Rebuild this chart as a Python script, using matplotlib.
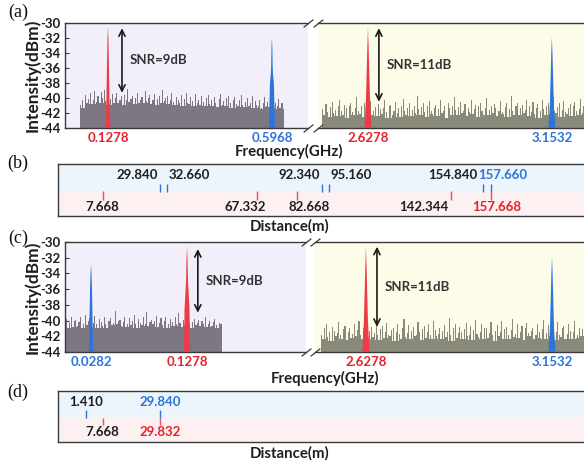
import numpy as np
import matplotlib
matplotlib.use("Agg")
import matplotlib.pyplot as plt

plt.rcParams['font.family'] = ['Lato', 'DejaVu Sans']
plt.rcParams['font.weight'] = 'bold'

W, H = 584, 463

# ---------------- data ----------------
yticks = [-30, -32, -34, -36, -38, -40, -42, -44]
ytick_labels = ["-30", "-32", "-34", "-36", "-38", "-40", "-42", "-44"]

# noise spectra (dBm), evenly spaced between start and end frequency
a_left_noise_range = (0.050, 0.630)
a_left_noise = [
    -40.9, -40.2, -41.3, -39.6, -40.7, -40.1, -39.4, -40.8, -40.3, -39.0,
    -40.5, -39.8, -40.6, -39.2, -40.0, -38.9, -40.4, -39.7, -40.9, -40.1,
    -39.5, -40.6, -40.0, -39.3, -40.7, -40.2, -39.8, -40.9, -39.6, -40.3,
    -38.8, -40.5, -40.1, -39.7, -40.8, -40.0, -39.4, -40.6, -40.2, -39.9,
    -40.7, -39.1, -40.4, -40.0, -39.6, -40.8, -40.3, -39.5, -40.9, -40.1,
    -39.8, -40.6, -38.9, -40.4, -40.0, -39.7, -40.8, -40.2, -39.3, -40.5,
    -40.9, -39.9, -40.3, -40.7, -39.6, -41.0, -40.1, -39.4, -40.6, -40.8,
    -39.9, -40.4, -41.0, -39.5, -40.7, -40.2, -40.9, -39.8, -40.5, -41.1,
    -40.0, -39.6, -40.8, -40.3, -41.0, -39.9, -40.6, -41.2, -40.1, -39.5,
    -40.9, -40.4, -41.1, -40.0, -39.7, -40.7, -41.3, -40.2, -39.9, -40.8,
    -41.0, -40.3, -39.6, -40.9, -41.2, -40.5, -40.0, -41.1, -40.6, -39.8,
    -41.3, -40.4, -40.9, -41.0, -40.2, -41.4, -40.7, -39.9, -41.1, -40.5,
    -41.2, -40.8, -40.3, -41.4, -40.6, -41.0, -40.1, -41.3, -40.7, -41.5]

a_right_noise_range = (2.499, 3.245)
a_right_noise = [
    -41.5, -42.3, -40.8, -41.9, -42.5, -41.2, -40.5, -42.0, -41.6, -42.4,
    -41.0, -40.3, -41.8, -42.2, -40.9, -41.4, -42.6, -41.1, -40.6, -41.9,
    -42.3, -41.3, -39.9, -41.7, -42.1, -41.0, -42.5, -40.7, -41.6, -42.0,
    -41.4, -40.4, -42.2, -41.8, -41.2, -42.4, -40.8, -41.5, -42.1, -41.3,
    -40.2, -41.9, -42.6, -41.1, -40.9, -42.3, -41.7, -40.5, -42.0, -41.4,
    -42.5, -41.0, -40.1, -41.8, -42.2, -41.3, -40.7, -42.4, -41.6, -41.1,
    -42.0, -39.8, -41.5, -42.3, -41.2, -40.6, -41.9, -42.5, -41.0, -40.4,
    -41.7, -42.1, -41.3, -40.9, -42.4, -41.5, -40.3, -42.0, -41.8, -41.1,
    -42.6, -40.7, -41.4, -42.2, -41.0, -39.9, -41.6, -42.3, -41.2, -40.5,
    -42.0, -41.7, -40.8, -42.4, -41.3, -41.9, -40.2, -42.1, -41.5, -40.9,
    -42.5, -41.1, -40.6, -41.8, -42.2, -41.4, -40.0, -42.3, -41.6, -41.0,
    -42.0, -40.8, -41.3, -42.4, -41.7, -40.4, -41.9, -42.1, -41.2, -40.7,
    -42.5, -41.5, -39.7, -41.8, -42.2, -41.0, -40.6, -42.3, -41.4, -40.9,
    -42.0, -41.6, -40.3, -42.4, -41.1, -41.9, -40.5, -42.1, -41.3, -40.8,
    -42.6, -41.7, -40.2, -41.5, -42.2, -41.0, -40.7, -42.3, -41.4, -39.9,
    -41.8, -42.0, -41.2, -40.6, -42.5, -41.6, -40.4, -41.9, -42.1, -41.3,
    -40.8, -42.4, -41.0, -40.5, -41.7, -42.2, -41.5, -40.1, -42.0, -41.1]

c_left_noise_range = (0.001, 0.163)
c_left_noise = [
    -40.6, -39.8, -41.0, -40.3, -39.5, -40.8, -40.1, -39.9, -40.7, -40.2,
    -39.6, -40.9, -40.4, -39.3, -40.6, -40.0, -39.7, -40.8, -40.3, -39.4,
    -40.5, -40.9, -39.8, -40.2, -40.7, -39.6, -40.4, -41.0, -40.1, -39.7,
    -40.6, -40.3, -38.8, -40.5, -40.0, -39.9, -40.7, -40.2, -39.5, -40.8,
    -40.4, -39.7, -40.6, -40.1, -39.3, -40.5, -40.9, -39.8, -40.3, -40.6,
    -39.6, -40.4, -38.9, -40.7, -40.2, -39.9, -40.5, -40.0, -39.4, -40.8,
    -40.3, -39.7, -40.6, -40.1, -39.5, -40.9, -40.4, -39.8, -40.2, -40.7,
    -39.6, -40.5, -39.0, -40.3, -40.8, -39.9, -40.6, -40.1, -39.7, -40.4,
    -40.9, -40.2, -39.8, -40.6, -40.3, -39.9, -40.7, -40.1, -40.5, -39.6,
    -40.8, -40.4, -40.0, -40.7, -40.2, -39.8, -40.6, -40.9, -40.3, -40.5]

c_right_noise_range = (2.503, 3.244)
c_right_noise = [
    -41.8, -42.4, -41.0, -40.4, -42.1, -41.5, -42.6, -40.8, -41.3, -42.0,
    -41.6, -40.2, -41.9, -42.3, -41.1, -40.7, -42.5, -41.4, -40.9, -42.2,
    -41.7, -40.5, -42.0, -41.2, -40.1, -41.8, -42.4, -41.0, -40.6, -41.5,
    -42.3, -41.3, -40.8, -42.1, -41.6, -39.9, -41.9, -42.5, -41.1, -40.7,
    -42.2, -41.4, -40.3, -41.8, -42.0, -41.2, -40.9, -42.6, -41.5, -40.4,
    -41.7, -42.3, -41.0, -39.8, -42.1, -41.6, -40.6, -42.4, -41.3, -40.8,
    -42.0, -41.9, -40.2, -41.4, -42.5, -41.1, -40.7, -42.2, -41.5, -40.5,
    -41.8, -42.3, -40.0, -41.2, -42.0, -41.7, -40.9, -42.4, -41.3, -40.6,
    -42.1, -41.5, -39.7, -41.9, -42.6, -41.0, -40.4, -42.2, -41.6, -40.8,
    -41.4, -42.3, -41.1, -40.3, -42.0, -41.8, -40.7, -42.5, -41.2, -39.9,
    -41.7, -42.1, -41.4, -40.5, -42.4, -41.0, -40.9, -42.2, -41.6, -40.2,
    -41.8, -42.6, -41.3, -40.6, -42.0, -41.5, -40.1, -42.3, -41.1, -40.8,
    -41.9, -42.4, -41.2, -39.8, -42.1, -41.7, -40.5, -42.2, -41.4, -40.7,
    -42.5, -41.0, -40.3, -41.6, -42.0, -41.3, -40.9, -42.4, -41.8, -40.4,
    -41.5, -42.2, -41.1, -39.9, -42.3, -41.6, -40.6, -42.0, -41.2, -40.8,
    -42.5, -41.4, -40.2, -41.9, -42.1, -41.0, -40.7, -42.3, -41.7, -40.5,
    -41.3, -42.4, -41.5, -40.0, -42.2, -41.8, -40.9, -42.0, -41.1, -40.6]

# peak spectra (frequency GHz, level dBm)
a_red_left_f = [0.1208, 0.1235, 0.1249, 0.1264, 0.1278, 0.1292, 0.1307, 0.1321, 0.1348]
a_red_left_v = [-44.0, -40.0, -36.0, -32.0, -30.5, -32.0, -36.0, -40.0, -44.0]
a_blue_left_f = [0.5882, 0.5911, 0.5934, 0.5945, 0.5957, 0.5968, 0.5979, 0.5991,
                 0.6002, 0.6025, 0.6054]
a_blue_left_v = [-44.0, -38.0, -37.0, -36.0, -33.0, -32.0, -33.0, -36.0, -37.0,
                 -38.0, -44.0]
a_red_right_f = [2.6178, 2.6221, 2.6244, 2.6261, 2.6278, 2.6295, 2.6312, 2.6335, 2.6378]
a_red_right_v = [-44.0, -40.0, -36.0, -33.0, -30.6, -33.0, -36.0, -40.0, -44.0]
a_blue_right_f = [3.1432, 3.1475, 3.1498, 3.1515, 3.1532, 3.1549, 3.1566, 3.1589, 3.1632]
a_blue_right_v = [-44.0, -41.0, -37.0, -34.0, -31.9, -34.0, -37.0, -41.0, -44.0]

c_blue_left_f = [0.0261, 0.0266, 0.0272, 0.0277, 0.0282, 0.0287, 0.0292, 0.0298, 0.0303]
c_blue_left_v = [-44.0, -40.0, -36.0, -34.0, -32.8, -34.0, -36.0, -40.0, -44.0]
c_red_left_f = [0.1247, 0.1252, 0.1259, 0.1268, 0.1273, 0.1278, 0.1283, 0.1288,
                0.1297, 0.1304, 0.1309]
c_red_left_v = [-44.0, -38.5, -37.0, -35.0, -32.0, -30.6, -32.0, -35.0, -37.0,
                -38.5, -44.0]
c_red_right_f = [2.6178, 2.6221, 2.6244, 2.6261, 2.6278, 2.6295, 2.6312, 2.6335, 2.6378]
c_red_right_v = [-44.0, -40.0, -36.0, -33.0, -30.6, -33.0, -36.0, -40.0, -44.0]
c_blue_right_f = [3.1432, 3.1475, 3.1498, 3.1515, 3.1532, 3.1549, 3.1566, 3.1589, 3.1632]
c_blue_right_v = [-44.0, -41.0, -37.0, -34.0, -31.9, -34.0, -37.0, -41.0, -44.0]

# x tick labels of the spectra
a_left_ticks = [0.1278, 0.5968]
a_right_ticks = [2.6278, 3.1532]
c_left_ticks = [0.0282, 0.1278]
c_right_ticks = [2.6278, 3.1532]

# SNR annotations: (x, top, bottom, text)
a_left_snr = (0.168, -30.7, -39.3, "SNR=9dB")
a_right_snr = (2.659, -30.7, -40.5, "SNR=11dB")
c_left_snr = (0.139, -30.9, -39.0, "SNR=9dB")
c_right_snr = (2.659, -30.6, -40.8, "SNR=11dB")

# distance panels
b_blue = [29.840, 32.660, 92.340, 95.160, 154.840, 157.660]
b_red = [7.668, 67.332, 82.668, 142.344, 157.668]
d_blue = [1.410, 29.840]
d_red = [7.668, 29.832]

# ---------------- style ----------------
RED = '#e8202c'
RED_PEAK = '#ee3b45'
BLUE = '#2a74dc'
BG_L = '#f3effa'
BG_R = '#fcfce9'
BG_TOP = '#edf5fc'
BG_BOT = '#fdf0f0'
NOISE_L = '#7c7782'
NOISE_R = '#8a8a7a'
SPINE = '#3a3a3a'
TXT = '#1e1e1e'
FS = 9.5
FS_LAB = 10.8


def rect(x0, y0, x1, y1):
    return [x0 / W, 1 - y1 / H, (x1 - x0) / W, (y1 - y0) / H]


fig = plt.figure(figsize=(W / 100, H / 100), dpi=100)


def noise(ax, rng, vals, color):
    vals = np.asarray(vals)
    x = np.linspace(rng[0], rng[1], len(vals))
    w = (rng[1] - rng[0]) / (len(vals) - 1)
    # dense body: lower envelope of neighbouring samples
    padded = np.pad(vals, 2, mode='edge')
    body = np.min(np.stack([padded[i:i + len(vals)] for i in range(5)]), axis=0)
    ax.fill_between(x, -44, body, step='mid', color=color, lw=0, zorder=2)
    ax.bar(x, vals + 44, bottom=-44, width=w * 0.7, color=color,
           linewidth=0, zorder=2)


def spectrum_axes(r, xlim, bg, side):
    ax = fig.add_axes(r)
    ax.set_facecolor(bg)
    ax.set_xlim(*xlim)
    ax.set_ylim(-44, -30)
    for s in ax.spines.values():
        s.set_color(SPINE)
        s.set_linewidth(1.0)
    if side == 'left':
        ax.spines['right'].set_visible(False)
        ax.set_yticks(yticks)
        ax.set_yticklabels(ytick_labels, fontsize=FS, fontweight='bold', color=TXT)
        ax.tick_params(axis='y', direction='in', length=3, width=0.8, pad=3,
                       color=SPINE)
        ax.set_ylabel("Intensity(dBm)", fontsize=12.5, fontweight='bold',
                      color=TXT, labelpad=0)
    else:
        ax.spines['left'].set_visible(False)
        ax.spines['right'].set_visible(False)
        ax.set_yticks([])
    return ax


def breaks(axl, axr):
    kw = dict(marker=[(-1, -0.8), (1, 0.8)], markersize=7, linestyle='none',
              color=SPINE, mec=SPINE, mew=0.9, clip_on=False)
    axl.plot([1, 1], [0, 1], transform=axl.transAxes, **kw)
    axr.plot([0, 0], [0, 1], transform=axr.transAxes, **kw)


def xlabels(ax, ticks, colors):
    ax.set_xticks(ticks)
    ax.set_xticklabels([f"{t:.4f}" for t in ticks], fontsize=FS,
                       fontweight='bold')
    for lab, c in zip(ax.get_xticklabels(), colors):
        lab.set_color(c)
    ax.tick_params(axis='x', length=0, pad=3)


def snr(ax, spec):
    x, top, bot, text = spec
    ax.annotate("", xy=(x, top), xytext=(x, bot),
                arrowprops=dict(arrowstyle='<->', color='#1a1a1a', lw=1.2,
                                shrinkA=0, shrinkB=0, mutation_scale=11),
                zorder=5)
    ax.annotate(text, xy=(x, (top + bot) / 2), xytext=(8, 0),
                textcoords='offset pixels', ha='left', va='center',
                fontsize=FS, fontweight='bold', color='#333333')


# ---------- (a) ----------
axa1 = spectrum_axes(rect(65, 23, 308, 128), (0.005, 0.700), BG_L, 'left')
noise(axa1, a_left_noise_range, a_left_noise, NOISE_L)
axa1.fill(a_red_left_f, a_red_left_v, color=RED_PEAK, lw=0, zorder=3)
axa1.fill(a_blue_left_f, a_blue_left_v, color=BLUE, lw=0, zorder=3)
xlabels(axa1, a_left_ticks, [RED, BLUE])
snr(axa1, a_left_snr)

axa2 = spectrum_axes(rect(318, 23, 584, 128), (2.485, 3.245), BG_R, 'right')
noise(axa2, a_right_noise_range, a_right_noise, NOISE_R)
axa2.fill(a_red_right_f, a_red_right_v, color=RED_PEAK, lw=0, zorder=3)
axa2.fill(a_blue_right_f, a_blue_right_v, color=BLUE, lw=0, zorder=3)
xlabels(axa2, a_right_ticks, [RED, BLUE])
snr(axa2, a_right_snr)
breaks(axa1, axa2)

# ---------- (c) ----------
axc1 = spectrum_axes(rect(65, 242, 306, 352), (0.0012, 0.2512), BG_L, 'left')
noise(axc1, c_left_noise_range, c_left_noise, NOISE_L)
axc1.fill(c_blue_left_f, c_blue_left_v, color=BLUE, lw=0, zorder=3)
axc1.fill(c_red_left_f, c_red_left_v, color=RED_PEAK, lw=0, zorder=3)
xlabels(axc1, c_left_ticks, [BLUE, RED])
snr(axc1, c_left_snr)

axc2 = spectrum_axes(rect(315, 242, 584, 352), (2.484, 3.2436), BG_R, 'right')
noise(axc2, c_right_noise_range, c_right_noise, NOISE_R)
axc2.fill(c_red_right_f, c_red_right_v, color=RED_PEAK, lw=0, zorder=3)
axc2.fill(c_blue_right_f, c_blue_right_v, color=BLUE, lw=0, zorder=3)
xlabels(axc2, c_right_ticks, [RED, BLUE])
snr(axc2, c_right_snr)
breaks(axc1, axc2)


# ---------- distance panels ----------
def dist_axes(r):
    ax = fig.add_axes(r)
    ax.set_xlim(-9.6, 193.7)
    ax.set_ylim(0, 1)
    ax.set_xticks([])
    ax.set_yticks([])
    ax.axhspan(0.48, 1, color=BG_TOP, lw=0, zorder=0)
    ax.axhspan(0, 0.48, color=BG_BOT, lw=0, zorder=0)
    for s in ax.spines.values():
        s.set_color(SPINE)
        s.set_linewidth(1.0)
    ax.spines['right'].set_visible(False)
    return ax


def lab(ax, x, y, text, color, dx, ha):
    ax.annotate(text, xy=(x, y), xycoords=ax.get_xaxis_transform(),
                xytext=(dx, 0), textcoords='offset pixels', ha=ha,
                va='center', fontsize=FS, fontweight='bold', color=color)


axb = dist_axes(rect(58, 164, 584, 216))
axb.vlines(b_blue, 0.47, 0.62, color=BLUE, lw=1.0, zorder=3)
axb.vlines(b_red, 0.30, 0.48, color='#e8505a', lw=1.0, zorder=3)
b_blue_style = [(-2, 'right', TXT), (1, 'left', TXT), (-2, 'right', TXT),
                (1, 'left', TXT), (-6, 'right', TXT), (-13, 'left', BLUE)]
for v, (dx, ha, c) in zip(b_blue, b_blue_style):
    lab(axb, v, 0.79, f"{v:.3f}", c, dx, ha)
b_red_style = [(0, 'center', TXT), (-12, 'center', TXT), (12, 'center', TXT),
               (-3, 'right', TXT), (6, 'center', RED)]
for v, (dx, ha, c) in zip(b_red, b_red_style):
    lab(axb, v, 0.18, f"{v:.3f}", c, dx, ha)

axd = dist_axes(rect(58, 391, 584, 442))
axd.vlines(d_blue, 0.47, 0.63, color=BLUE, lw=1.0, zorder=3)
axd.vlines(d_red, 0.33, 0.48, color='#e8505a', lw=1.0, zorder=3)
for v, c in zip(d_blue, [TXT, BLUE]):
    lab(axd, v, 0.79, f"{v:.3f}", c, 0, 'center')
for v, c in zip(d_red, [TXT, RED]):
    lab(axd, v, 0.20, f"{v:.3f}", c, 0, 'center')


# ---------- axis titles ----------
def ftext(x, y, s, **kw):
    fig.text(x / W, 1 - y / H, s, ha='center', va='center', **kw)


ftext(289, 151, "Frequency(GHz)", fontsize=FS_LAB, fontweight='bold', color=TXT)
ftext(290, 226, "Distance(m)", fontsize=FS_LAB, fontweight='bold', color=TXT)
ftext(325, 378, "Frequency(GHz)", fontsize=FS_LAB, fontweight='bold', color=TXT)
ftext(290, 453, "Distance(m)", fontsize=FS_LAB, fontweight='bold', color=TXT)

serif = dict(fontsize=13, fontweight='normal', family='Liberation Serif',
             color='#111111')
ftext(18, 12, "(a)", **serif)
ftext(18, 163, "(b)", **serif)
ftext(18, 238, "(c)", **serif)
ftext(18, 392, "(d)", **serif)

fig.savefig("out.png", dpi=100)
